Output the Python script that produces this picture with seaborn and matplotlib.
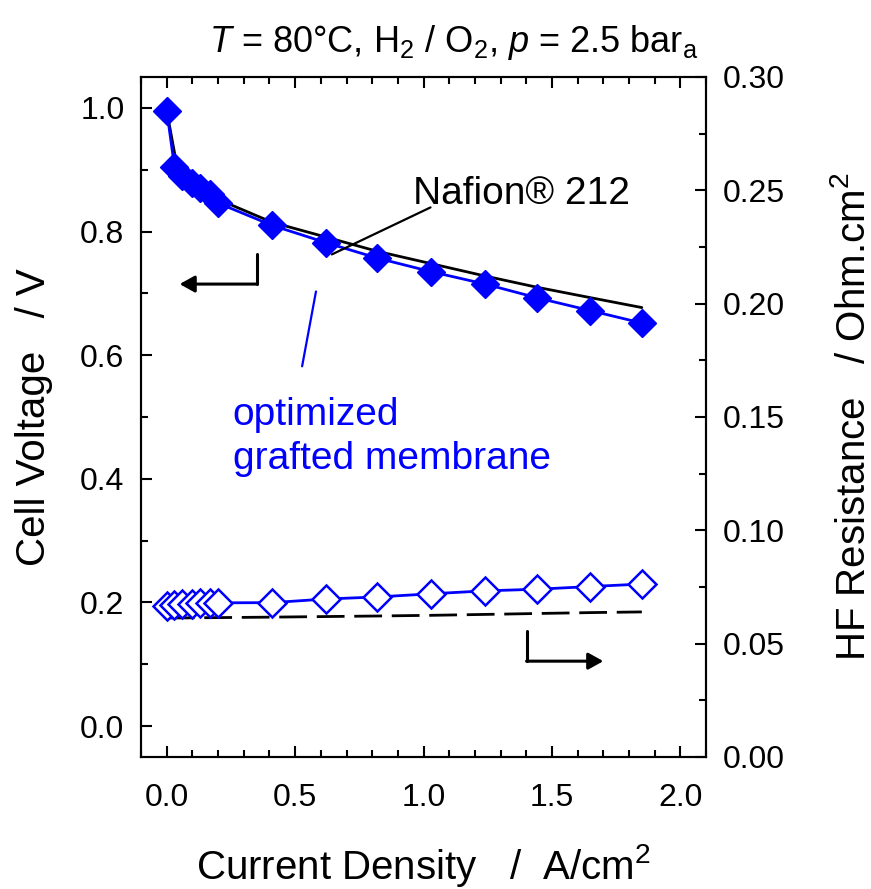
import matplotlib
matplotlib.use("Agg")
import matplotlib.pyplot as plt
import seaborn as sns
from matplotlib import font_manager
from matplotlib.ticker import MultipleLocator, FormatStrFormatter

strom_grafted = [0.0, 0.03, 0.06, 0.10, 0.13, 0.17, 0.20, 0.41, 0.62, 0.82,
                 1.03, 1.24, 1.44, 1.65, 1.85]
spannung_grafted = [0.995, 0.905, 0.890, 0.879, 0.870, 0.860, 0.846, 0.810,
                    0.782, 0.757, 0.735, 0.715, 0.693, 0.672, 0.652]
hfr_grafted = [0.0666, 0.0672, 0.0675, 0.0677, 0.0678, 0.0679, 0.0680, 0.0681,
               0.0697, 0.0706, 0.0720, 0.0733, 0.0740, 0.0752, 0.0763]

strom_nafion = [0.0, 0.04, 0.06, 0.10, 0.15, 0.20, 0.41, 0.62, 0.82, 1.03,
                1.24, 1.44, 1.65, 1.85]
spannung_nafion = [0.995, 0.905, 0.890, 0.875, 0.863, 0.852, 0.815, 0.791,
                   0.768, 0.748, 0.728, 0.710, 0.693, 0.677]
hfr_nafion_strom = [0.0, 0.41, 0.82, 1.03, 1.24, 1.44, 1.65, 1.85]
hfr_nafion = [0.0613, 0.0617, 0.0622, 0.0625, 0.0629, 0.0633, 0.0637, 0.0640]

BLAU = "#0000ff"

sns.set_style("ticks", {"axes.edgecolor": "black", "text.color": "black",
                        "axes.labelcolor": "black", "xtick.color": "black",
                        "ytick.color": "black"})
plt.rcParams['font.family'] = ['Liberation Sans', 'DejaVu Sans']

# Titel im Original in einer schmalen Schrift
installiert = {f.name for f in font_manager.fontManager.ttflist}
if 'Liberation Sans Narrow' in installiert:
    titel_font, titel_groesse = 'Liberation Sans Narrow', 30
else:
    titel_font, titel_groesse = 'Liberation Sans', 26
plt.rcParams['mathtext.fontset'] = 'custom'
plt.rcParams['mathtext.rm'] = titel_font
plt.rcParams['mathtext.it'] = titel_font + ':italic'

fig = plt.figure(figsize=(8.71, 8.89), dpi=100)
ax = fig.add_axes([0.162, 0.1485, 0.6486, 0.7649])
ax2 = ax.twinx()

# Zellspannung
sns.lineplot(x=strom_nafion, y=spannung_nafion, ax=ax, color="black", lw=2)
sns.lineplot(x=strom_grafted, y=spannung_grafted, ax=ax, color=BLAU, lw=2,
             marker="D", markersize=14, markeredgecolor=BLAU, markeredgewidth=1.0)

# HF-Widerstand
sns.lineplot(x=hfr_nafion_strom, y=hfr_nafion, ax=ax2, color="black", lw=2,
             linestyle=(0, (10, 3.5)))
sns.lineplot(x=strom_grafted, y=hfr_grafted, ax=ax2, color=BLAU, lw=2,
             marker="D", markersize=14, markerfacecolor="white",
             markeredgecolor=BLAU, markeredgewidth=1.8)

ax.set_xlim(-0.1, 2.1)
ax.set_ylim(-0.05, 1.05)
ax2.set_ylim(0.0, 0.30)

ax.xaxis.set_major_locator(MultipleLocator(0.5))
ax.xaxis.set_minor_locator(MultipleLocator(0.1))
ax.yaxis.set_major_locator(MultipleLocator(0.2))
ax.yaxis.set_minor_locator(MultipleLocator(0.1))
ax2.yaxis.set_major_locator(MultipleLocator(0.05))
ax2.yaxis.set_minor_locator(MultipleLocator(0.025))
ax.xaxis.set_major_formatter(FormatStrFormatter('%.1f'))
ax.yaxis.set_major_formatter(FormatStrFormatter('%.1f'))
ax2.yaxis.set_major_formatter(FormatStrFormatter('%.2f'))

ax.tick_params(axis='x', which='both', direction='in', top=True, bottom=True,
               labelsize=23, pad=19, width=1.5)
ax.tick_params(axis='y', which='both', direction='in', left=True, right=False,
               labelsize=23, pad=12, width=1.5)
ax2.tick_params(axis='y', which='both', direction='in', right=True,
                labelsize=23, pad=12, width=1.5)
for a in (ax, ax2):
    a.tick_params(which='major', length=8)
    a.tick_params(which='minor', length=5)
    for s in a.spines.values():
        s.set_linewidth(1.5)
        s.set_visible(True)

ax.set_xlabel("Current Density   /  A/cm$^2$", fontsize=29)
ax.set_ylabel("Cell Voltage   / V", fontsize=29)
ax2.set_ylabel("HF Resistance   / Ohm.cm$^2$", fontsize=29, rotation=90)
ax.xaxis.set_label_coords(0.5, -0.125)
ax.yaxis.set_label_coords(-0.156, 0.5)
ax2.yaxis.set_label_coords(1.226, 0.5)

fig.text(0.521, 0.9415, r"$T$ = 80°C, H$_2$ / O$_2$, $p$ = 2.5 bar$_\mathrm{a}$",
         fontsize=titel_groesse, family=titel_font, ha="center", va="baseline")

# Beschriftungen
ax.text(0.96, 0.845, "Nafion® 212", fontsize=28, ha="left", va="baseline")
ax.plot([0.643, 1.027], [0.763, 0.839], color="black", lw=1.6)
ax.text(0.256, 0.487, "optimized", fontsize=28, color=BLAU, va="baseline")
ax.text(0.256, 0.416, "grafted membrane", fontsize=28, color=BLAU, va="baseline")
ax.plot([0.581, 0.527], [0.703, 0.582], color=BLAU, lw=1.6)

# Achsenpfeile
pfeil = dict(arrowstyle="-|>,head_length=0.9,head_width=0.5",
             color="black", lw=2.2, shrinkA=0, shrinkB=0)
ax.plot([0.35, 0.35], [0.763, 0.715], color="black", lw=2.2)
ax.annotate("", xy=(0.05, 0.715), xytext=(0.352, 0.715), arrowprops=pfeil)
ax.plot([1.403, 1.403], [0.153, 0.105], color="black", lw=2.2)
ax.annotate("", xy=(1.70, 0.105), xytext=(1.401, 0.105), arrowprops=pfeil)

fig.savefig("out.png", dpi=100)
